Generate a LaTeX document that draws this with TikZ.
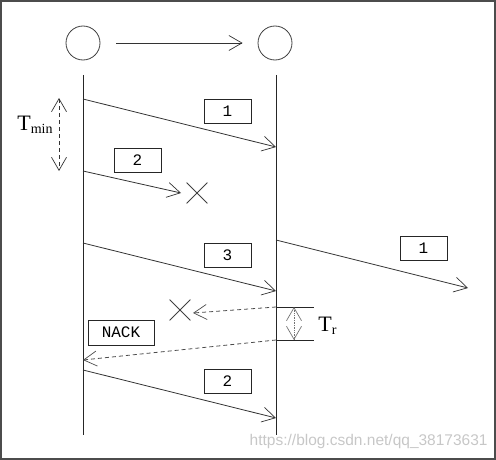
\documentclass[tikz,border=0pt]{standalone}
\usepackage{fontspec}
\setmainfont{Liberation Serif}
\newfontfamily\boxfont{Liberation Mono}
\newfontfamily\wmfont{Liberation Sans}
\usetikzlibrary{arrows.meta,shapes.misc}
\begin{document}
\begin{tikzpicture}[x=1pt,y=-1pt,
  line width=0.8pt,
  barb/.style={-{Straight Barb[length=13pt,width=15pt,line width=0.7pt]}},
  dbarb/.style={{Straight Barb[length=13pt,width=15pt,line width=0.7pt]}-{Straight Barb[length=13pt,width=15pt,line width=0.7pt]}},
  msg/.style={draw=black!80, line width=0.8pt, barb},
  back/.style={draw=black!70, line width=0.8pt, dash pattern=on 4pt off 3pt, barb},
  life/.style={draw=black!85, line width=1pt},
  peer/.style={circle, draw=black!75, line width=0.8pt, minimum size=34pt, inner sep=0pt},
  lbl/.style={draw=black!85, line width=0.8pt, minimum width=47pt, minimum height=24pt, inner sep=0pt, font=\boxfont\fontsize{16}{16}\selectfont},
  lost/.style={cross out, draw=black!75, line width=0.8pt, minimum size=20pt, inner sep=0pt},
  tlabel/.style={font=\fontsize{22}{22}\selectfont, inner sep=0pt}
]
\useasboundingbox (0,0) rectangle (496,460);
\draw[black!70, line width=2pt] (1,1) rectangle (495,459);

% peers
\node[peer] (A) at (83,43) {};
\node[peer] (B) at (275,43) {};
\draw[msg, shorten <=16pt, shorten >=15pt] (A) -- (B);

% lifelines
\coordinate (L0) at (83,75);
\coordinate (L1) at (83,435);
\coordinate (R0) at (276,75);
\coordinate (R1) at (276,435);
\draw[life] (L0) -- (L1);
\draw[life] (R0) -- (R1);

% packet 1
\coordinate (p1s) at (83,99);
\coordinate (p1e) at (276,147);
\draw[msg] (p1s) -- (p1e);
\node[lbl] (b1) at (227.5,111) {1};

% Tmin
\coordinate (tm0) at (59,98);
\coordinate (tm1) at (59,171);
\draw[black!80, line width=0.7pt, dash pattern=on 4pt off 3pt, dbarb] (tm0) -- (tm1);
\node[tlabel] (tmin) at (35,125) {T\raisebox{-0.12em}{\fontsize{14}{14}\selectfont min}};

% packet 2 lost
\coordinate (p2s) at (83,171);
\node[lost] (x1) at (197,193) {};
\coordinate (p2e) at (181,193);
\draw[msg] (p2s) -- (p2e);
\node[lbl] (b2) at (137.5,160.5) {2};

% packet 3
\coordinate (p3s) at (83,243);
\coordinate (p3e) at (276,291);
\draw[msg] (p3s) -- (p3e);
\node[lbl] (b3) at (227.5,255) {3};

% packet 1 forwarded
\coordinate (f1s) at (276,240);
\coordinate (f1e) at (468,288);
\draw[msg] (f1s) -- (f1e);
\node[lbl] (b4) at (423.5,248.5) {1};

% lost NACK
\coordinate (n1s) at (276,307);
\coordinate (n1e) at (193,313);
\draw[back] (n1s) -- (n1e);
\node[lost] (x2) at (180,310) {};

% Tr
\coordinate (tr0e) at (314,307);
\coordinate (tr1s) at (276,340);
\coordinate (tr1e) at (314,340);
\draw[black!85, line width=0.8pt] (n1s) -- (tr0e);
\draw[black!85, line width=0.8pt] (tr1s) -- (tr1e);
\coordinate (tra) at (294,307);
\coordinate (trb) at (294,340);
\draw[black!55, line width=0.7pt, densely dotted, dbarb] (tra) -- (trb);
\node[tlabel, anchor=west] (tr) at (318,326) {T\raisebox{-0.15em}{\fontsize{14}{14}\selectfont r}};

% NACK
\coordinate (n2e) at (83,360);
\draw[back] (tr1s) -- (n2e);
\node[lbl, minimum width=66pt, minimum height=25pt] (nack) at (121,332.5) {NACK};

% packet 2 retransmitted
\coordinate (p5s) at (83,370);
\coordinate (p5e) at (276,418);
\draw[msg] (p5s) -- (p5e);
\node[lbl] (b5) at (227.5,381) {2};

% watermark
\node[font=\wmfont\fontsize{15.5}{15.5}\selectfont, text=black!22, anchor=east, inner sep=0pt] (wm) at (488,441) {https://blog.csdn.net/qq\_38173631};
\end{tikzpicture}
\end{document}
